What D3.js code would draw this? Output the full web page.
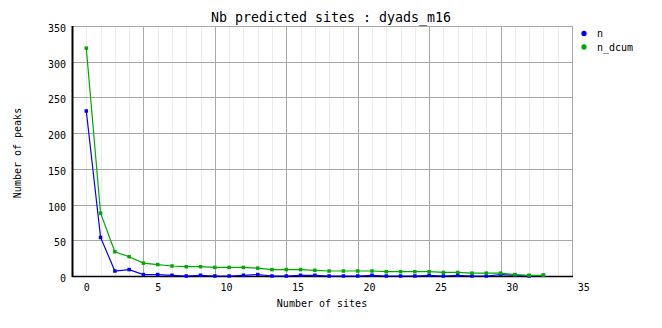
<!DOCTYPE html>
<html><head><meta charset="utf-8">
<script src="https://cdn.jsdelivr.net/npm/d3@7"></script>
<style>
body{margin:0;background:#fff;}
svg{display:block;}
text{font-family:"DejaVu Sans Mono","Liberation Mono",monospace;fill:#000;}
</style></head>
<body><svg id="c" width="662" height="328"></svg>
<script>
const title = "Nb predicted sites : dyads_m16";
const xLabel = "Number of sites";
const yLabel = "Number of peaks";
const sites = d3.range(0, 33);
const nValues = [231,54,7,9,2,2,1,0,1,0,0,1,2,0,0,1,1,0,0,0,1,0,0,0,1,0,1,0,0,2,1,0,1];
const nDcumValues = [319,88,34,27,18,16,14,13,13,12,12,12,11,9,9,9,8,7,7,7,7,6,6,6,6,5,5,4,4,4,2,1,1];
const seriesNames = ["n","n_dcum"];
const seriesColors = ["#0000ff","#00aa00"];
const xTickLabels = [0,5,10,15,20,25,30,35];
const yTickLabels = [0,50,100,150,200,250,300,350];
const xMajorGrid = [4,9,14,19,24,29];

const svg = d3.select("#c");
const L=72, R=572, T=26, B=276;
const x = d3.scaleLinear().domain([-1,34]).range([L,R]);
const y = d3.scaleLinear().domain([0,350]).range([B,T]);

// minor vertical grid
svg.append("g").selectAll("line").data(d3.range(0,34)).join("line")
  .attr("x1",d=>Math.round(x(d))+0.5).attr("x2",d=>Math.round(x(d))+0.5)
  .attr("y1",T).attr("y2",B).attr("stroke","#ececec").attr("stroke-width",1);
// major vertical grid
svg.append("g").selectAll("line").data(xMajorGrid.concat([34])).join("line")
  .attr("x1",d=>Math.round(x(d))+0.5).attr("x2",d=>Math.round(x(d))+0.5)
  .attr("y1",T).attr("y2",B).attr("stroke","#a8a8a8").attr("stroke-width",1);
// horizontal grid
svg.append("g").selectAll("line").data(yTickLabels.filter(v=>v>0)).join("line")
  .attr("x1",L).attr("x2",R)
  .attr("y1",d=>Math.round(y(d))+0.5).attr("y2",d=>Math.round(y(d))+0.5)
  .attr("stroke","#a8a8a8").attr("stroke-width",1);

// axes lines
svg.append("line").attr("x1",L+0.5).attr("x2",L+0.5).attr("y1",T).attr("y2",B+1)
  .attr("stroke","#000").attr("stroke-width",2);
svg.append("line").attr("x1",L).attr("x2",R+1).attr("y1",B+0.5).attr("y2",B+0.5)
  .attr("stroke","#000").attr("stroke-width",1.5);

// tick labels via axes (right edge of label at tick + 3px)
const xa = svg.append("g").attr("transform",`translate(0,${B})`)
  .call(d3.axisBottom(x).tickValues(xTickLabels).tickSize(0).tickPadding(8).tickFormat(d3.format("d")));
xa.select(".domain").remove();
xa.selectAll("text").style("font-size","10px").attr("text-anchor","end").attr("x",3);
const ya = svg.append("g").attr("transform",`translate(${L},0)`)
  .call(d3.axisLeft(y).tickValues(yTickLabels).tickSize(0).tickPadding(6).tickFormat(d3.format("d")));
ya.select(".domain").remove();
ya.selectAll("text").style("font-size","10px").attr("dy","0.55em");

// series
const series = [nValues, nDcumValues];
series.forEach((vals,i)=>{
  const pts = sites.map((s,k)=>[s,vals[k]]);
  svg.append("path").datum(pts)
    .attr("d", d3.line().x(d=>x(d[0])).y(d=>y(d[1])))
    .attr("fill","none").attr("stroke",seriesColors[i]).attr("stroke-width",1.2);
  svg.append("g").selectAll("rect").data(pts).join("rect")
    .attr("x",d=>x(d[0])-1.75).attr("y",d=>y(d[1])-1.75)
    .attr("width",3.5).attr("height",3.5).attr("fill",seriesColors[i]);
});

// title
svg.append("text").attr("x",331).attr("y",22).attr("text-anchor","middle")
  .style("font-size","13.3px").text(title);
// axis titles
svg.append("text").attr("x",322).attr("y",307).attr("text-anchor","middle")
  .style("font-size","10px").text(xLabel);
svg.append("text").attr("transform","translate(21,153) rotate(-90)").attr("text-anchor","middle")
  .style("font-size","10px").text(yLabel);

// legend
seriesNames.forEach((nm,i)=>{
  const ly = 33.5 + i*13.5;
  svg.append("path").attr("d", d3.symbol(d3.symbolCircle, 22)())
    .attr("transform",`translate(584,${ly})`).attr("fill",seriesColors[i]);
  svg.append("text").attr("x",597).attr("y",ly+3.5).style("font-size","10px").text(nm);
});
</script></body></html>
